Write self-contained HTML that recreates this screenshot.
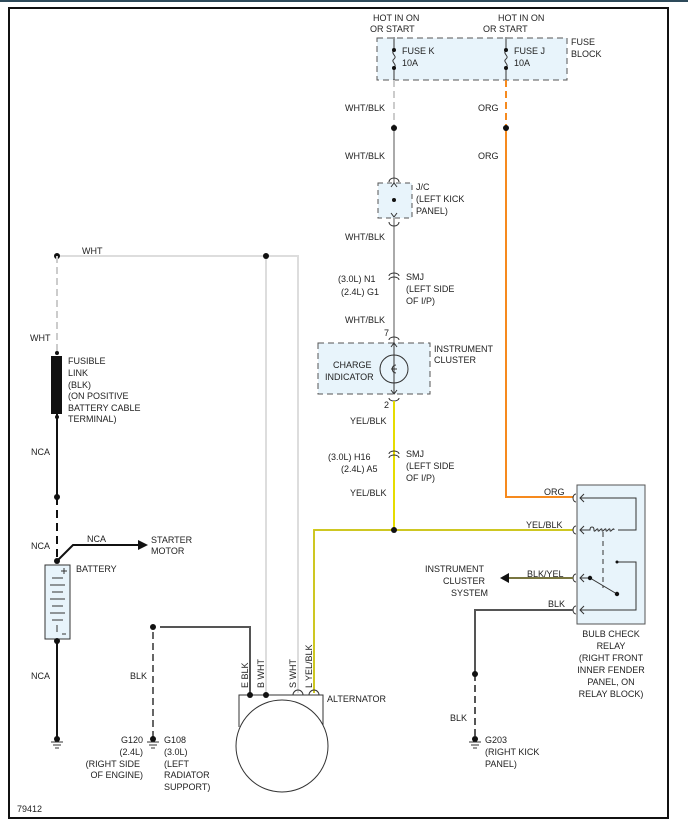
<!DOCTYPE html>
<html><head><meta charset="utf-8"><style>body{margin:0;background:#fff}svg{display:block}text{font-family:"Liberation Sans",sans-serif;font-size:9px;fill:#222}</style></head><body>
<svg width="688" height="832" viewBox="0 0 688 832">
<rect x="0" y="0" width="688" height="2" fill="#2d4a5a"/>
<rect x="9" y="8" width="659" height="810" fill="none" stroke="#111" stroke-width="2"/>
<!-- fuse block -->
<rect x="377" y="38" width="190" height="42" fill="#e8f4fb" stroke="#555" stroke-dasharray="6,4"/>
<text x="373" y="21">HOT IN ON</text><text x="370" y="32">OR START</text>
<text x="498" y="21">HOT IN ON</text><text x="483" y="32">OR START</text>
<text x="571" y="45">FUSE</text><text x="571" y="57">BLOCK</text>
<g stroke="#333" fill="none"><path d="M394 37V50M394 68V80M394 50c-4 4 4 6 0 9s4 5 0 9"/><path d="M506 37V50M506 68V80M506 50c-4 4 4 6 0 9s4 5 0 9"/></g>
<circle cx="394" cy="50" r="2" fill="#111"/><circle cx="394" cy="68" r="2" fill="#111"/><circle cx="506" cy="50" r="2" fill="#111"/><circle cx="506" cy="68" r="2" fill="#111"/>
<text x="402" y="54">FUSE K</text><text x="402" y="66">10A</text><text x="514" y="54">FUSE J</text><text x="514" y="66">10A</text>
<!-- wht/blk wire -->
<line x1="394" y1="80" x2="394" y2="128" stroke="#ccc" stroke-width="2" stroke-dasharray="7,4"/>
<line x1="394" y1="128" x2="394" y2="343" stroke="#aaa" stroke-width="2"/>
<circle cx="394" cy="128" r="3" fill="#111"/>
<text x="345" y="111">WHT/BLK</text><text x="345" y="159">WHT/BLK</text>
<rect x="378" y="183" width="34" height="35" fill="#e8f4fb" stroke="#555" stroke-dasharray="5,4"/>
<g stroke="#333" fill="none"><path d="M389 182a5 4 0 0 1 10 0M389 222a5 4 0 0 0 10 0M391 187l3-4 3 4M391 213l3 4 3-4"/></g>
<circle cx="394" cy="200" r="2" fill="#111"/>
<text x="416" y="190">J/C</text><text x="416" y="202">(LEFT KICK</text><text x="416" y="214">PANEL)</text>
<text x="345" y="240">WHT/BLK</text>
<g stroke="#333" fill="none"><path d="M389 276a5 3 0 0 1 10 0M389 280a5 3 0 0 1 10 0"/></g>
<text x="338" y="282">(3.0L)  N1</text><text x="341" y="295">(2.4L)  G1</text>
<text x="406" y="280">SMJ</text><text x="406" y="292">(LEFT SIDE</text><text x="406" y="304">OF I/P)</text>
<text x="345" y="323">WHT/BLK</text><text x="384" y="336">7</text>
<!-- cluster -->
<rect x="318" y="343" width="112" height="51" fill="#e8f4fb" stroke="#555" stroke-dasharray="6,4"/>
<path d="M389 340a5 3 0 0 1 10 0M389 398a5 3 0 0 0 10 0" stroke="#333" fill="none"/>
<line x1="394" y1="343" x2="394" y2="394" stroke="#333"/>
<path d="M391 347l3-4 3 4M391 390l3 4 3-4" stroke="#333" fill="none"/>
<circle cx="394" cy="369" r="14" fill="none" stroke="#333"/>
<path d="M396 365c-5 0-5 8 0 8M391 369h6" stroke="#333" fill="none"/>
<text x="333" y="368">CHARGE</text><text x="325" y="380">INDICATOR</text>
<text x="434" y="352">INSTRUMENT</text><text x="434" y="363">CLUSTER</text>
<text x="384" y="408">2</text><text x="350" y="424">YEL/BLK</text>
<line x1="394" y1="401" x2="394" y2="530" stroke="#e6dc00" stroke-width="2"/>
<path d="M389 454a5 3 0 0 1 10 0M389 458a5 3 0 0 1 10 0" stroke="#333" fill="none"/>
<text x="328" y="460">(3.0L)   H16</text><text x="341" y="472">(2.4L)  A5</text>
<text x="406" y="457">SMJ</text><text x="406" y="469">(LEFT SIDE</text><text x="406" y="481">OF I/P)</text>
<text x="350" y="496">YEL/BLK</text>
<path d="M573 530H314V693" stroke="#e6dc00" stroke-width="2" fill="none"/>
<path d="M573 530H314V693" stroke="#888" stroke-width="0.5" fill="none"/>
<circle cx="394" cy="530" r="3" fill="#111"/>
<!-- orange -->
<line x1="506" y1="80" x2="506" y2="128" stroke="#f68a1e" stroke-width="2" stroke-dasharray="7,4"/>
<path d="M506 128V497H573" stroke="#f68a1e" stroke-width="2" fill="none"/>
<circle cx="506" cy="128" r="3" fill="#111"/>
<text x="478" y="111">ORG</text><text x="478" y="159">ORG</text>
<!-- relay -->
<rect x="577" y="485" width="68" height="139" fill="#e8f4fb" stroke="#555"/>
<g stroke="#333" fill="none">
<path d="M576 494a3 4 0 0 0 0 8M576 526a3 4 0 0 0 0 8M576 574a3 4 0 0 0 0 8M576 606a3 4 0 0 0 0 8"/>
<path d="M584 494l-4 4 4 4M584 526l-4 4 4 4M584 574l-4 4 4 4M584 606l-4 4 4 4"/>
<path d="M580 498H636V530H618M580 530H590c0-4 4-4 4 0s4-4 4 0 4-4 4 0 4-4 4 0 4-4 4 0 4-4 4 0"/>
<path d="M603 532V588" stroke-dasharray="5,4"/>
<path d="M580 578H590L617 594M617 562H636V610H580"/>
</g>
<circle cx="590" cy="578" r="2.2" fill="#111"/><circle cx="617" cy="594" r="2.2" fill="#111"/><circle cx="617" cy="562" r="1.5" fill="#111"/>
<text x="544" y="495">ORG</text><text x="526" y="528">YEL/BLK</text><text x="527" y="577">BLK/YEL</text><text x="548" y="607">BLK</text>
<line x1="573" y1="578" x2="508" y2="578" stroke="#555" stroke-width="2"/><line x1="573" y1="578" x2="508" y2="578" stroke="#e6dc00" stroke-width="0.6"/>
<path d="M500 578l9-5v10z" fill="#111"/>
<text x="425" y="572">INSTRUMENT</text><text x="443" y="584">CLUSTER</text><text x="451" y="596">SYSTEM</text>
<g text-anchor="middle"><text x="611" y="637">BULB CHECK</text><text x="611" y="649">RELAY</text><text x="611" y="661">(RIGHT FRONT</text><text x="611" y="673">INNER FENDER</text><text x="611" y="685">PANEL, ON</text><text x="611" y="697">RELAY BLOCK)</text></g>
<path d="M573 610H475V674" stroke="#555" stroke-width="2" fill="none"/>
<line x1="475" y1="674" x2="475" y2="738" stroke="#555" stroke-width="2" stroke-dasharray="7,4"/>
<circle cx="475" cy="674" r="3" fill="#111"/>
<text x="450" y="721">BLK</text>
<circle cx="475" cy="739" r="3" fill="#111"/><path d="M469 742h12M471 745h8M473 748h4" stroke="#333"/>
<text x="485" y="743">G203</text><text x="485" y="755">(RIGHT KICK</text><text x="485" y="767">PANEL)</text>
<!-- WHT wires -->
<path d="M57 256H298V693" stroke="#ddd" stroke-width="2" fill="none"/>
<line x1="266" y1="256" x2="266" y2="695" stroke="#ddd" stroke-width="2"/>
<circle cx="57" cy="256" r="3" fill="#111"/><circle cx="266" cy="256" r="3" fill="#111"/>
<text x="82" y="254">WHT</text>
<line x1="57" y1="256" x2="57" y2="352" stroke="#ccc" stroke-width="2" stroke-dasharray="7,4"/>
<text x="30" y="341">WHT</text>
<circle cx="57" cy="353" r="2" fill="#111"/>
<rect x="51" y="356" width="11" height="58" fill="#111"/>
<text x="68" y="364">FUSIBLE</text><text x="68" y="376">LINK</text><text x="68" y="388">(BLK)</text><text x="68" y="399">(ON POSITIVE</text><text x="68" y="411">BATTERY CABLE</text><text x="68" y="422">TERMINAL)</text>
<line x1="57" y1="414" x2="57" y2="497" stroke="#111" stroke-width="2"/>
<line x1="57" y1="497" x2="57" y2="561" stroke="#111" stroke-width="2" stroke-dasharray="8,5"/>
<circle cx="57" cy="417" r="2" fill="#111"/><circle cx="57" cy="497" r="3" fill="#111"/><circle cx="57" cy="561" r="3" fill="#111"/>
<text x="31" y="455">NCA</text><text x="31" y="549">NCA</text><text x="31" y="679">NCA</text>
<path d="M57 561L73 545H139" stroke="#111" stroke-width="2" fill="none"/>
<path d="M148 545l-10-5v10z" fill="#111"/>
<text x="87" y="542">NCA</text><text x="151" y="543">STARTER</text><text x="151" y="554">MOTOR</text>
<rect x="45" y="565" width="25" height="74" fill="#e8f4fb" stroke="#333"/>
<g stroke="#333"><path d="M52 578h11M50 585h15M52 592h11M50 599h15M52 606h11M50 613h15M52 620h11M57 625v7M64 568v6M61 571h6M62 634h4"/></g>
<text x="76" y="572">BATTERY</text>
<line x1="57" y1="641" x2="57" y2="739" stroke="#111" stroke-width="2"/>
<circle cx="57" cy="641" r="3" fill="#111"/>
<circle cx="57" cy="739" r="3" fill="#111"/><path d="M51 742h12M53 745h8M55 748h4" stroke="#333"/>
<!-- ground G120 -->
<path d="M160 627H250V695" stroke="#555" stroke-width="2" fill="none"/>
<line x1="153" y1="632" x2="153" y2="738" stroke="#666" stroke-width="2" stroke-dasharray="7,4"/>
<circle cx="153" cy="627" r="3" fill="#111"/>
<text x="130" y="679">BLK</text>
<circle cx="153" cy="739" r="3" fill="#111"/><path d="M147 742h12M149 745h8M151 748h4" stroke="#333"/>
<g text-anchor="end"><text x="143" y="743">G120</text><text x="143" y="755">(2.4L)</text><text x="140" y="767">(RIGHT SIDE</text><text x="143" y="778">OF ENGINE)</text></g>
<text x="164" y="743">G108</text><text x="164" y="755">(3.0L)</text><text x="164" y="767">(LEFT</text><text x="164" y="778">RADIATOR</text><text x="164" y="790">SUPPORT)</text>
<!-- alternator -->
<path d="M239 727V695H323V727" stroke="#333" fill="none"/>
<circle cx="282" cy="746" r="46" fill="#fff" stroke="#333"/>
<path d="M293 695a5 5 0 0 1 10 0M309 695a5 5 0 0 1 10 0" stroke="#333" fill="none"/>
<circle cx="250" cy="695" r="3" fill="#111"/><circle cx="266" cy="695" r="3" fill="#111"/>
<text x="327" y="702">ALTERNATOR</text>
<g transform="rotate(-90)"><text x="-688" y="248">E  BLK</text><text x="-688" y="264">B  WHT</text><text x="-688" y="296">S  WHT</text><text x="-688" y="312">L  YEL/BLK</text></g>
<text x="17" y="812">79412</text>
</svg></body></html>
